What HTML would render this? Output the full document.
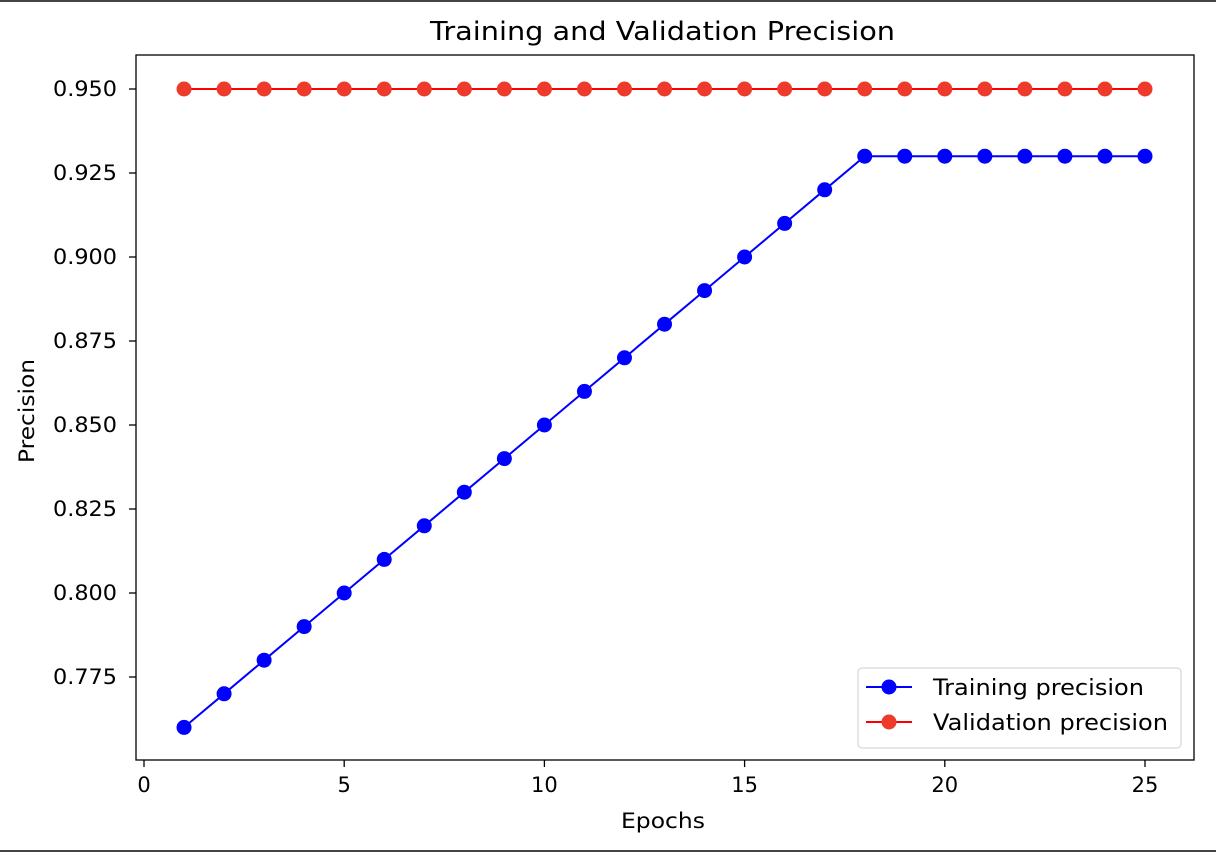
<!DOCTYPE html>
<html><head><meta charset="utf-8"><style>
html,body{margin:0;padding:0;background:#fff;}
svg{display:block;font-family:"DejaVu Sans","Liberation Sans",sans-serif;}
</style></head><body>
<svg id="chart" width="1216" height="852">
<rect x="0" y="0" width="1216" height="852" fill="#fff"/>
<line x1="0" y1="1" x2="1216" y2="1" stroke="#444" stroke-width="2"/>
<line x1="0" y1="851" x2="1216" y2="851" stroke="#444" stroke-width="2"/>
<text x="430" y="40" font-size="26" textLength="465" lengthAdjust="spacingAndGlyphs" fill="#000">Training and Validation Precision</text>
<text x="621" y="828" font-size="21" textLength="84" lengthAdjust="spacingAndGlyphs" fill="#000">Epochs</text>
<text transform="translate(34,463) rotate(-90)" font-size="21" textLength="104" lengthAdjust="spacingAndGlyphs" fill="#000">Precision</text>
<g id="grid"></g>
<g id="series"></g>
<rect x="136" y="55" width="1058" height="705" fill="none" stroke="#000" stroke-width="1.3"/>
<g>
<rect x="858" y="668" width="323" height="80" rx="4" fill="#fff" stroke="#ccc"/>
<g>
<line x1="866" y1="687" x2="912" y2="687" stroke="#0000ff" stroke-width="2"/>
<circle cx="889" cy="687" r="7.5" fill="#0000ff"/>
<text x="933" y="695" font-size="22" textLength="211" lengthAdjust="spacingAndGlyphs">Training precision</text></g>
<g>
<line x1="866" y1="722" x2="912" y2="722" stroke="#ff0000" stroke-width="2"/>
<circle cx="889" cy="722" r="7.5" fill="#ee3a2a"/>
<text x="933" y="730" font-size="22" textLength="235" lengthAdjust="spacingAndGlyphs">Validation precision</text></g>
</g>
</svg>
<script>
const epochs=[1,2,3,4,5,6,7,8,9,10,11,12,13,14,15,16,17,18,19,20,21,22,23,24,25];
const trainingPrecision=[0.76,0.77,0.78,0.79,0.80,0.81,0.82,0.83,0.84,0.85,0.86,0.87,0.88,0.89,0.90,0.91,0.92,0.93,0.93,0.93,0.93,0.93,0.93,0.93,0.93];
const validationPrecision=[0.95,0.95,0.95,0.95,0.95,0.95,0.95,0.95,0.95,0.95,0.95,0.95,0.95,0.95,0.95,0.95,0.95,0.95,0.95,0.95,0.95,0.95,0.95,0.95,0.95];
const xTicks=[0,5,10,15,20,25];
const yTicks=[0.775,0.800,0.825,0.850,0.875,0.900,0.925,0.950];
const NS="http://www.w3.org/2000/svg";
function xs(v){return 144+v*40.04;}
function ys(v){return 89+(0.95-v)*3360;}
const g=document.getElementById('grid'), s=document.getElementById('series');
function mk(tag,attrs,parent){const e=document.createElementNS(NS,tag);for(const k in attrs)e.setAttribute(k,attrs[k]);parent.appendChild(e);return e;}
xTicks.forEach(t=>{
  const l=mk('line',{x1:xs(t),x2:xs(t),y1:760,y2:767,stroke:'#000','stroke-width':1.3},g);
  
  
  const tx=mk('text',{x:xs(t),y:792,'font-size':21,'text-anchor':'middle'},g);tx.textContent=t;
  
  
});
yTicks.forEach(t=>{
  const l=mk('line',{x1:129,x2:136,y1:ys(t),y2:ys(t),stroke:'#000','stroke-width':1.3},g);
  
  
  const tx=mk('text',{x:53,y:ys(t)+7,'font-size':21,textLength:64,lengthAdjust:'spacingAndGlyphs'},g);tx.textContent=t.toFixed(3);
  
  
});
function series(vals,color,mcolor,name){
  const p=mk('polyline',{points:epochs.map((e,i)=>xs(e)+','+ys(vals[i])).join(' '),fill:'none',stroke:color,'stroke-width':2},s);
  
  
  epochs.forEach((e,i)=>{
    const c=mk('circle',{cx:xs(e),cy:ys(vals[i]),r:7.5,fill:mcolor},s);
    
    
  });
}
series(trainingPrecision,'#0000ff','#0000ff','training');
series(validationPrecision,'#ff0000','#ee3a2a','validation');
</script>
</body></html>
